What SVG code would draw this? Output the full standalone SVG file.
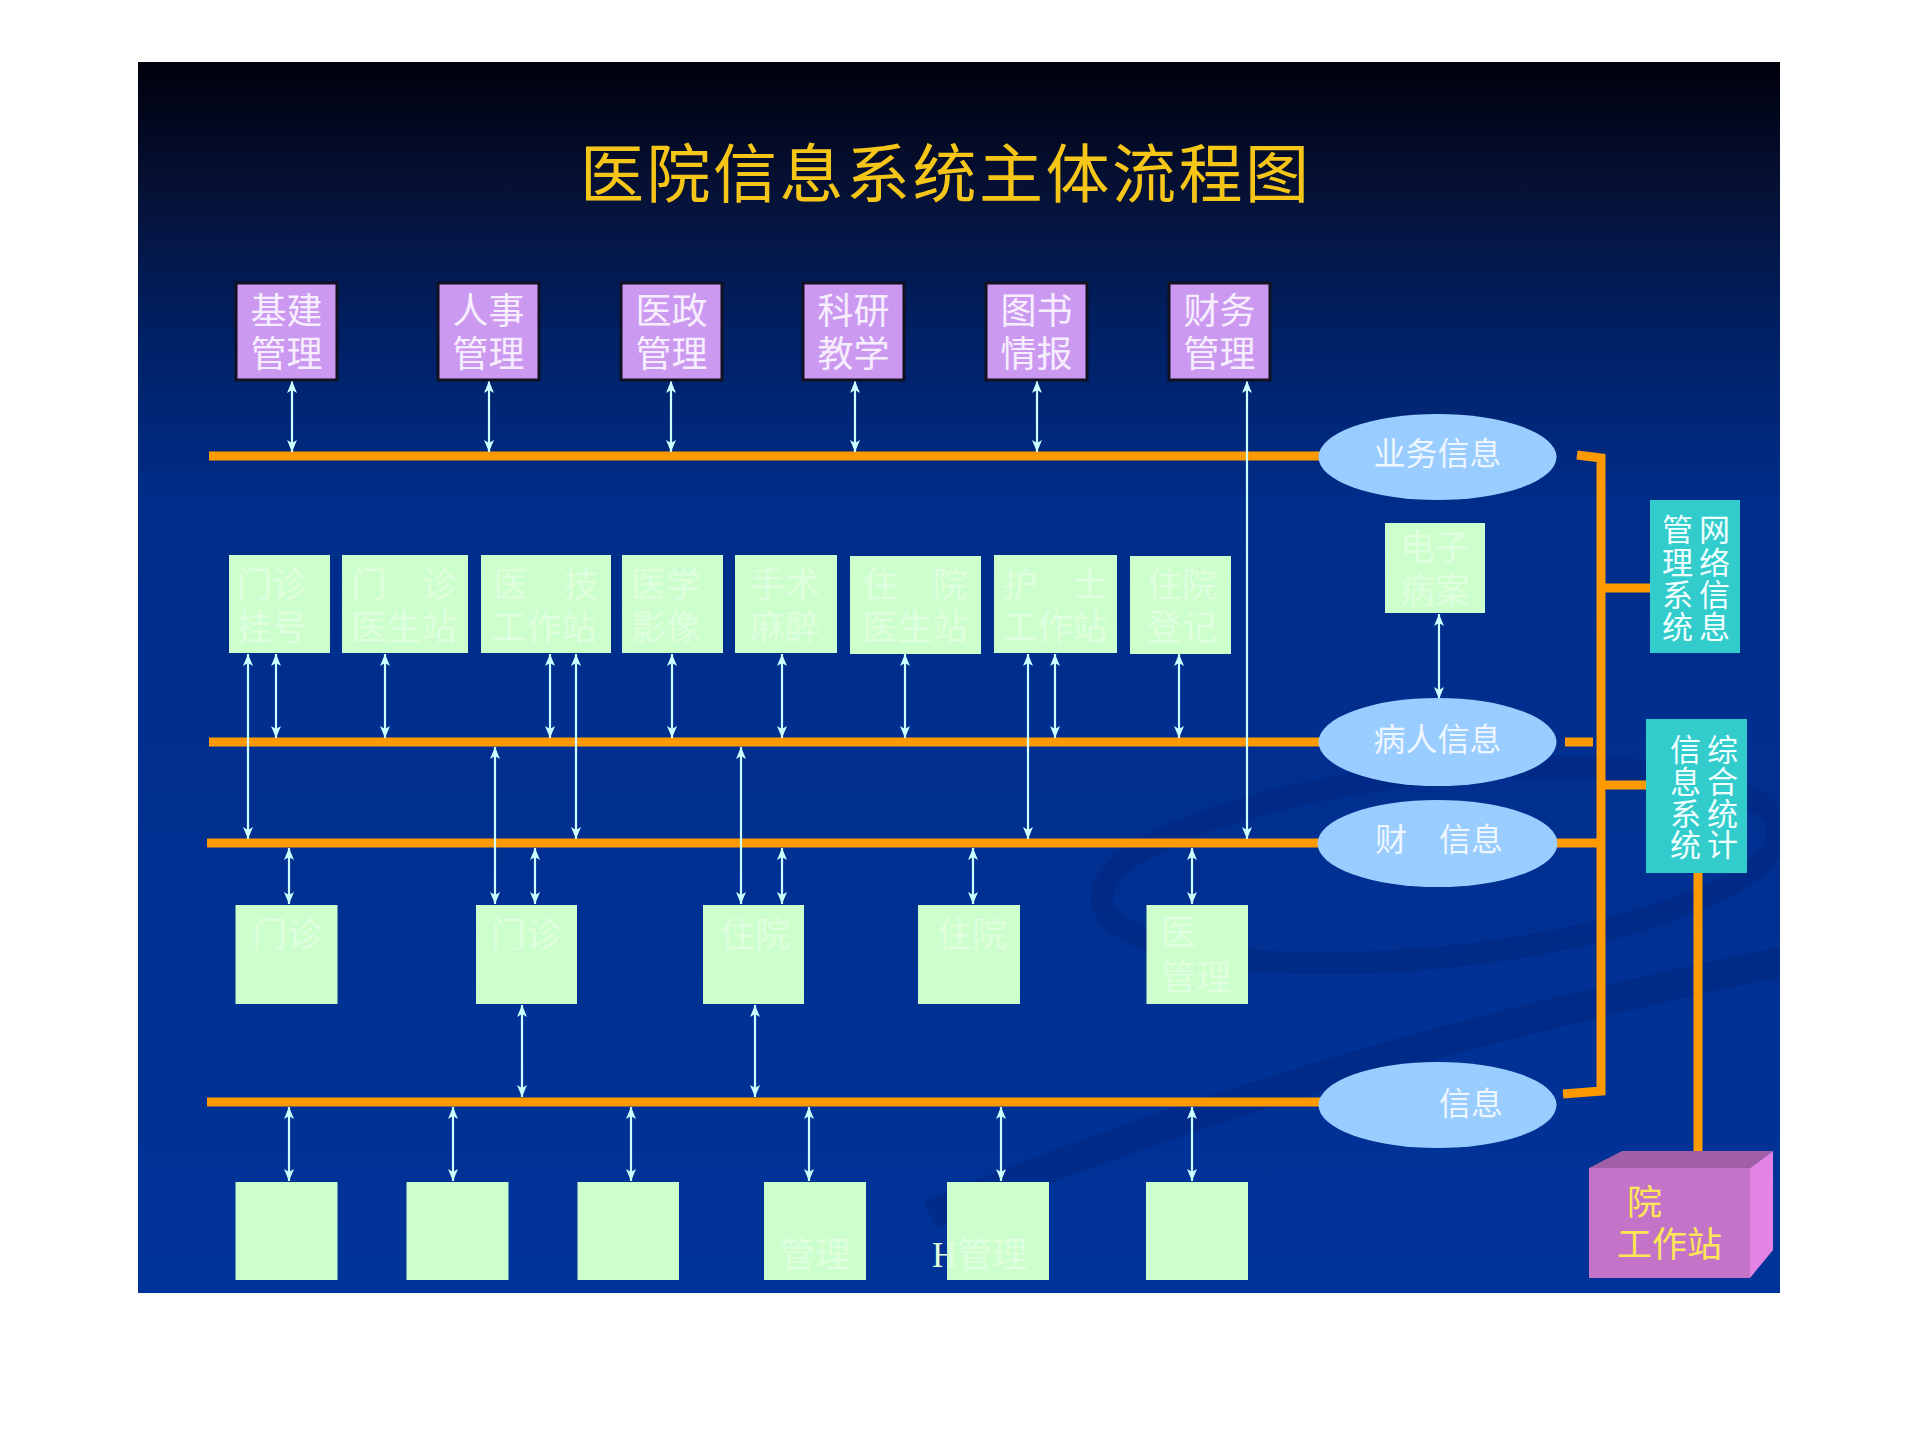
<svg xmlns="http://www.w3.org/2000/svg" width="1920" height="1440" viewBox="0 0 1920 1440">
<defs>
<linearGradient id="bg" gradientUnits="userSpaceOnUse" x1="0" y1="62" x2="0" y2="1293">
<stop offset="0" stop-color="#00000c"/>
<stop offset="0.11" stop-color="#061238"/>
<stop offset="0.22" stop-color="#002064"/>
<stop offset="0.36" stop-color="#002d8a"/>
<stop offset="1" stop-color="#003399"/>
</linearGradient>
<clipPath id="slide"><rect x="138" y="62" width="1642" height="1231"/></clipPath>
<marker id="ah" viewBox="0 0 12 10" refX="12" refY="5" markerWidth="12" markerHeight="10" markerUnits="userSpaceOnUse" orient="auto-start-reverse">
<path d="M0,0 L12,5 L0,10 L3,5 z" fill="#ccffff"/>
</marker>
<style>
.pu{fill:#cc99f0;stroke:#111122;stroke-width:3}
.gr{fill:#ccffcc}
.cy{fill:#33cccc}
.el{fill:#99ccff}
.bus{stroke:#ff9900;stroke-width:9;fill:none}
.ar{stroke:#ccffff;stroke-width:2.2;fill:none;marker-start:url(#ah);marker-end:url(#ah)}
.t{font-family:"Liberation Serif","Noto Sans CJK SC","Noto Sans CJK TC",serif}
.tp{fill:#f6eeff;font-size:36px;text-anchor:middle}
.tg{fill:#dfffdf;font-size:35px}
.tgm{fill:#dfffdf;font-size:35px;text-anchor:middle}
.te{fill:#eef6ff;font-size:32px}
.tc{fill:#f0ffff;font-size:31px;writing-mode:vertical-rl}
.ty{fill:#ffe655;font-size:35px}
</style>
</defs>
<rect x="0" y="0" width="1920" height="1440" fill="#ffffff"/>
<rect x="138" y="62" width="1642" height="1231" fill="url(#bg)"/>
<g id="swirl" fill="none" stroke="#00247a" opacity="0.45" clip-path="url(#slide)">
<ellipse cx="1440" cy="865" rx="340" ry="92" transform="rotate(-6 1440 865)" stroke-width="22"/>
<path d="M930,1215 Q1300,1060 1790,960" stroke-width="30"/>
</g>
<text id="title" class="t" x="580" y="197" font-size="64" letter-spacing="2.5" fill="#f5c518">医院信息系统主体流程图</text>
<g id="buses">
<line class="bus" x1="209" y1="456" x2="1322" y2="456"/>
<line class="bus" x1="209" y1="742" x2="1322" y2="742"/>
<line class="bus" x1="207" y1="843" x2="1322" y2="843"/>
<line class="bus" x1="207" y1="1102" x2="1322" y2="1102"/>
<polyline class="bus" points="1577,455 1601,458 1601,1091 1563,1094"/>
<line class="bus" x1="1601" y1="588" x2="1652" y2="588"/>
<line class="bus" x1="1601" y1="785" x2="1648" y2="785"/>
<line class="bus" x1="1552" y1="843" x2="1601" y2="843"/>
<line class="bus" x1="1565" y1="742" x2="1593" y2="742"/>
<line class="bus" x1="1698" y1="872" x2="1698" y2="1153"/>
</g>
<g id="connectors">
<line class="ar" x1="292" y1="381" x2="292" y2="452"/>
<line class="ar" x1="489" y1="381" x2="489" y2="452"/>
<line class="ar" x1="671" y1="381" x2="671" y2="452"/>
<line class="ar" x1="855" y1="381" x2="855" y2="452"/>
<line class="ar" x1="1037" y1="381" x2="1037" y2="452"/>
<line class="ar" x1="1247" y1="381" x2="1247" y2="839"/>
<line class="ar" x1="248" y1="654" x2="248" y2="839"/>
<line class="ar" x1="276" y1="654" x2="276" y2="738"/>
<line class="ar" x1="385" y1="654" x2="385" y2="738"/>
<line class="ar" x1="550" y1="654" x2="550" y2="738"/>
<line class="ar" x1="576" y1="654" x2="576" y2="839"/>
<line class="ar" x1="672" y1="654" x2="672" y2="738"/>
<line class="ar" x1="782" y1="654" x2="782" y2="738"/>
<line class="ar" x1="905" y1="654" x2="905" y2="738"/>
<line class="ar" x1="1028" y1="654" x2="1028" y2="839"/>
<line class="ar" x1="1055" y1="654" x2="1055" y2="738"/>
<line class="ar" x1="1179" y1="654" x2="1179" y2="738"/>
<line class="ar" x1="1439" y1="614" x2="1439" y2="699"/>
<line class="ar" x1="495" y1="747" x2="495" y2="904"/>
<line class="ar" x1="741" y1="747" x2="741" y2="904"/>
<line class="ar" x1="289" y1="848" x2="289" y2="904"/>
<line class="ar" x1="535" y1="848" x2="535" y2="904"/>
<line class="ar" x1="782" y1="848" x2="782" y2="904"/>
<line class="ar" x1="973" y1="848" x2="973" y2="904"/>
<line class="ar" x1="1192" y1="848" x2="1192" y2="904"/>
<line class="ar" x1="522" y1="1005" x2="522" y2="1097"/>
<line class="ar" x1="755" y1="1005" x2="755" y2="1097"/>
<line class="ar" x1="289" y1="1107" x2="289" y2="1181"/>
<line class="ar" x1="453" y1="1107" x2="453" y2="1181"/>
<line class="ar" x1="631" y1="1107" x2="631" y2="1181"/>
<line class="ar" x1="809" y1="1107" x2="809" y2="1181"/>
<line class="ar" x1="1001" y1="1107" x2="1001" y2="1181"/>
<line class="ar" x1="1192" y1="1107" x2="1192" y2="1181"/>
</g>
<g id="n-jijian"><rect class="pu" x="236" y="283" width="101" height="97"/><text class="t tp"><tspan x="286.5" y="324">基建</tspan><tspan x="286.5" y="367">管理</tspan></text></g>
<g id="n-renshi"><rect class="pu" x="438" y="283" width="101" height="97"/><text class="t tp"><tspan x="488.5" y="324">人事</tspan><tspan x="488.5" y="367">管理</tspan></text></g>
<g id="n-yizheng"><rect class="pu" x="621" y="283" width="101" height="97"/><text class="t tp"><tspan x="671.5" y="324">医政</tspan><tspan x="671.5" y="367">管理</tspan></text></g>
<g id="n-keyan"><rect class="pu" x="803" y="283" width="101" height="97"/><text class="t tp"><tspan x="853.5" y="324">科研</tspan><tspan x="853.5" y="367">教学</tspan></text></g>
<g id="n-tushu"><rect class="pu" x="986" y="283" width="101" height="97"/><text class="t tp"><tspan x="1036.5" y="324">图书</tspan><tspan x="1036.5" y="367">情报</tspan></text></g>
<g id="n-caiwu"><rect class="pu" x="1169" y="283" width="101" height="97"/><text class="t tp"><tspan x="1219.5" y="324">财务</tspan><tspan x="1219.5" y="367">管理</tspan></text></g>
<g id="n-mzgh"><rect class="gr" x="229" y="555" width="101" height="98"/><text class="t tgm"><tspan x="272" y="597">门诊</tspan><tspan x="272" y="640">挂号</tspan></text></g>
<g id="n-mzys"><rect class="gr" x="342" y="555" width="126" height="98"/><text class="t tgm"><tspan x="404" y="597">门　诊</tspan><tspan x="404" y="640">医生站</tspan></text></g>
<g id="n-yjgz"><rect class="gr" x="481" y="555" width="130" height="98"/><text class="t tgm"><tspan x="546" y="597">医　技</tspan><tspan x="544" y="640">工作站</tspan></text></g>
<g id="n-yxyx"><rect class="gr" x="622" y="555" width="101" height="98"/><text class="t tgm"><tspan x="666" y="597">医学</tspan><tspan x="666" y="640">影像</tspan></text></g>
<g id="n-ssmz"><rect class="gr" x="735" y="555" width="102" height="98"/><text class="t tgm"><tspan x="785" y="597">手术</tspan><tspan x="785" y="640">麻醉</tspan></text></g>
<g id="n-zyys"><rect class="gr" x="850" y="556" width="131" height="98"/><text class="t tgm"><tspan x="915" y="597">住　院</tspan><tspan x="915" y="640">医生站</tspan></text></g>
<g id="n-hsgz"><rect class="gr" x="994" y="555" width="123" height="98"/><text class="t tgm"><tspan x="1055" y="597">护　士</tspan><tspan x="1055" y="640">工作站</tspan></text></g>
<g id="n-zydj"><rect class="gr" x="1130" y="556" width="101" height="98"/><text class="t tgm"><tspan x="1182" y="597">住院</tspan><tspan x="1182" y="640">登记</tspan></text></g>
<g id="n-dzba"><rect class="gr" x="1385" y="523" width="100" height="90"/><text class="t tgm"><tspan x="1435" y="560">电子</tspan><tspan x="1435" y="603">病案</tspan></text></g>
<g id="n-ywxx"><ellipse class="el" cx="1437.5" cy="457" rx="119" ry="43"/><text class="t te" x="1437.5" y="465" text-anchor="middle">业务信息</text></g>
<g id="n-brxx"><ellipse class="el" cx="1437.5" cy="742" rx="119" ry="44"/><text class="t te" x="1437.5" y="751" text-anchor="middle">病人信息</text></g>
<g id="n-cwxx"><ellipse class="el" cx="1437.5" cy="843.5" rx="120" ry="43.5"/><text class="t te" x="1375" y="851">财　信息</text></g>
<g id="n-xx"><ellipse class="el" cx="1437.5" cy="1105" rx="119" ry="43"/><text class="t te" x="1439" y="1115">信息</text></g>
<g id="n-wlxx"><rect class="cy" x="1650" y="500" width="90" height="153"/>
<text class="t tc" x="1674.5" y="514" letter-spacing="1.3">管理系统</text>
<text class="t tc" x="1711.5" y="514" letter-spacing="1.3">网络信息</text></g>
<g id="n-zhtj"><rect class="cy" x="1646" y="719" width="101" height="154"/>
<text class="t tc" x="1682.5" y="734" letter-spacing="0.7">信息系统</text>
<text class="t tc" x="1719.5" y="734" letter-spacing="0.7">综合统计</text></g>
<g id="n-mz1"><rect class="gr" x="235.5" y="905" width="102" height="99"/><text class="t tg" x="252" y="947">门诊</text></g>
<g id="n-mz2"><rect class="gr" x="476" y="905" width="101" height="99"/><text class="t tg" x="491" y="947">门诊</text></g>
<g id="n-zy1"><rect class="gr" x="703" y="905" width="101" height="99"/><text class="t tg" x="720" y="947">住院</text></g>
<g id="n-zy2"><rect class="gr" x="918" y="905" width="102" height="99"/><text class="t tg" x="937" y="947">住院</text></g>
<g id="n-ygl"><rect class="gr" x="1146.5" y="905" width="101.5" height="99"/><text class="t tg"><tspan x="1161" y="945">医</tspan><tspan x="1161" y="990">管理</tspan></text></g>
<g id="n-b1"><rect class="gr" x="235.5" y="1182" width="102" height="98"/></g>
<g id="n-b2"><rect class="gr" x="406.5" y="1182" width="102" height="98"/></g>
<g id="n-b3"><rect class="gr" x="577.5" y="1182" width="101.5" height="98"/></g>
<g id="n-b4"><rect class="gr" x="764" y="1182" width="102" height="98"/><text class="t tg" x="780" y="1267">管理</text></g>
<g id="n-b5"><rect class="gr" x="947" y="1182" width="102" height="98"/><text class="t tg" x="932" y="1267">H管理</text></g>
<g id="n-b6"><rect class="gr" x="1146" y="1182" width="102" height="98"/></g>
<g id="n-ygzz">
<polygon points="1589,1168 1622,1151 1773,1151 1750,1168" fill="#a15fa5"/>
<polygon points="1750,1168 1773,1151 1773,1250 1750,1278" fill="#e383e3"/>
<rect x="1589" y="1168" width="161" height="110" fill="#c474c8"/>
<text class="t ty"><tspan x="1627" y="1215">院</tspan><tspan x="1617" y="1257">工作站</tspan></text>
</g>
</svg>
